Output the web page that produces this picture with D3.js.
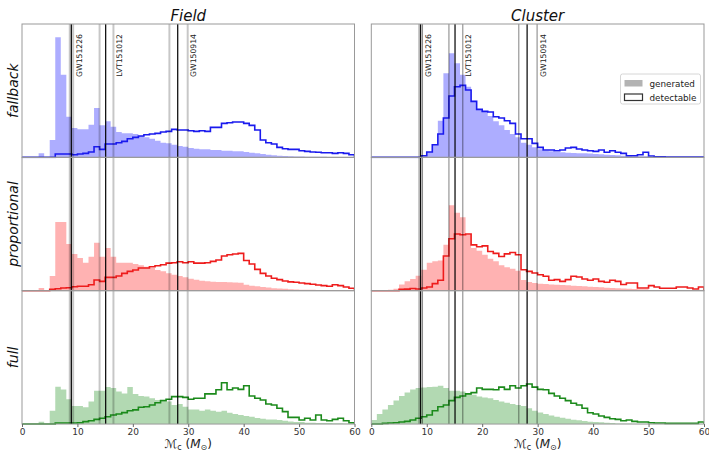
<!DOCTYPE html>
<html>
<head>
<meta charset="utf-8">
<script src="https://cdn.jsdelivr.net/npm/d3@7"></script>
<style>
  body { margin: 0; background: #fff; }
  svg { display: block; font-family: "DejaVu Sans", sans-serif; }
</style>
</head>
<body>
<svg id="chart" width="709" height="452"></svg>
<script>
// column / row names
const envs = ["Field", "Cluster"];
const models = ["fallback", "proportional", "full"];

// histogram heights, one value per 1 M_sun bin from 0 to 60 (percent of panel height)
const fieldFallbackGen = [0,0,0,3,0,13,90,62,30.5,22,21,21,24.5,37,24,27,23,19,18,18,17.5,16,15,14,12.5,11,10.5,9.5,8.5,8,7,6.5,6,6,5.5,5.5,5,5,4.5,4.5,4,3.5,3,2.5,2,1.5,1.2,1,0.8,0.7,0.6,0.5,0.5,0.4,0.4,0.3,0.3,0.3,0.2,0.2];
const fieldFallbackDet = [0,0,0,0,0,0,2.5,2.5,2.5,2,2.5,3,4,8,6,10,10,11,12,14,15,16,17,17.5,18,19,19.5,21,20.5,20.5,20,19.5,20,19.5,22.5,22.5,25.5,26,26.5,26.5,25.5,24,20.5,13,11,10,7.5,6.5,6,6,5,4.5,4,3.8,3.5,3.5,3,3.5,3,2];
const clusterFallbackGen = [0,0,0,0,0,0,0,0,0,1,4,10,27.5,63,78,70.5,62,53,42.5,36,34.5,31,27,24,20.5,17.5,15,11,9.5,7.5,6,5,4.5,4,3.8,3.5,3.3,3.1,3,2.8,2.5,2.3,2,1.8,1.5,1.2,1,0.8,0.8,0.8,0.4,0.4,0.3,0.3,0.3,0.3,0.2,0.2,0.2,0.2];
const clusterFallbackDet = [0,0,0,0,0,0,0,0,0,1.2,4,9.5,17.5,29.5,46,53,54,50.5,42,36,34.5,34,30.5,29.5,27.5,25.5,17.5,14,14,10.5,7.5,5.5,5.5,5,5.5,7,7.5,6.3,5.5,5,4.5,5.5,3.8,5,3.8,3,1.2,1.2,2,3.8,1,0.5,0.5,0.3,0.3,0.3,0.3,0.3,0.3,0.3];

const fieldPropGen = [0,0,0,2,0,11,51.5,51.5,35,27.5,24.5,21,25.5,36,25.5,32,25.5,21,21,21,20,19,18,17,15.5,14.5,13,12,11,10,9,8.3,7.5,7,6.8,6.5,6.5,6.3,6.2,6,4.5,3.8,3.3,2.8,2.4,1.8,1.6,1.4,1.1,0.9,0.8,0.7,0.7,0.6,0.6,0.5,0.5,0.5,0.5,0.5];
const fieldPropDet = [0,0,0,0,0,1,1.5,2,2.2,3,3.3,3.3,4.5,8,7,10,10,11,13,14.5,15.5,17,17,18,18.7,19.5,20.7,21,21.7,21,21.7,20.7,20.7,21,22,23,26,27,27.5,28,22.7,20,16,13,11,9.3,8.3,7.3,6.6,6.3,5.8,5.3,4.8,4.3,3.8,3.3,4.5,3.8,2.8,1.8];
const clusterPropGen = [0,0,0,0.8,1.5,4.6,7,8.8,11.3,15.7,21,22,22.7,34.4,64,58.4,55,42,32,30,27,24,22,19,17.5,16.5,15,8,6.5,5.8,5.3,5,4.6,4.5,4.3,4.1,3.8,3.6,3.3,3,2.8,2.6,2.3,2,1.8,1.6,1.4,1.2,1,1,0.6,0.6,0.6,0.5,0.5,0.5,0.4,0.4,0.4,0.4];
const clusterPropDet = [0,0,0,0,0,1,1.2,1.6,1.3,2,2.8,5.3,7.8,26,39,42.5,42,42.5,34.4,33,33.6,29.4,28,25.7,27.6,28.6,27,15.7,14.5,13.3,12,10.8,7.8,8.3,7,8.3,10.8,10.3,8.8,7.8,8.8,7,6.3,7.8,7,4.6,5.8,5.8,2,2,3.8,2.8,1.8,1.8,1.8,2.8,2.8,2,1.3,2.8];

const fieldFullGen = [0,0,0,1.8,0,10,28,26,18.6,13.6,13.6,12.6,16.9,25,25,27.7,27,24.4,23,27.7,22.6,21,20.6,19.4,18,16.9,16.9,14.3,15,13,11,11,10,11,10,9.3,10,8.5,7.5,6.8,6,5.5,4.5,4,3.5,3.5,3,2.5,2,1.5,1.5,1,0.9,0.8,0.8,0.7,0.6,0.6,0.5,0.5];
const fieldFullDet = [0,0,0,0,0,0,0.8,0.8,0.8,0.8,1,1.8,2.5,3.5,4.3,5.5,6.8,7.5,8.6,10,10.6,12.6,13,14.3,16,17.6,18.6,20.6,20.6,20,18.6,19.4,19.4,22.6,22.6,25.7,31,25.7,27,26,28.7,21,19.4,18,15,14.3,11.8,9.3,5,5,3,4.3,3,6.8,3,2.5,3.5,4.3,2.5,1];
const clusterFullGen = [3,7.5,11,14.3,17.6,21,23.6,26,27,27.4,27.7,28,28.7,27,25,25,24.4,23,22,20.6,20,19.4,18,16.9,16,15,14.3,13.6,11.8,10,8.6,7.5,6.5,5.5,4.8,4,3.3,2.8,2.3,1.8,1.5,1.3,1,0.8,0.5,0.5,0.5,0.3,0.2,0.2,0.2,0.2,0.2,0.2,0.2,0.2,0.2,0.2,0.2,0.2];
const clusterFullDet = [0,0,0.5,0.8,1,1.5,2,3,4.3,5.5,6.8,10,13,14.3,17.6,20,21,22.6,23.6,27,26,26,25.7,27.7,26,28.7,27,28.7,30,27.7,26,25.7,23,21,19.4,17.6,15.6,14.3,11.8,8.5,7.5,6,5,4,3.5,2.5,3,2,1.5,1.5,1,0.8,0.8,0.5,0.5,0.5,0.5,0.5,0.5,1.5];

// observed events: chirp mass with 90% bounds
const eventNames = ["GW151226", "LVT151012", "GW150914"];
const eventMass = [8.9, 15.1, 28.1];
const eventLow = [8.62, 14.0, 26.6];
const eventHigh = [9.23, 16.5, 29.9];

const xTicks = [0, 10, 20, 30, 40, 50, 60];
const legendLabels = ["generated", "detectable"];

const genData = [[fieldFallbackGen, clusterFallbackGen], [fieldPropGen, clusterPropGen], [fieldFullGen, clusterFullGen]];
const detData = [[fieldFallbackDet, clusterFallbackDet], [fieldPropDet, clusterPropDet], [fieldFullDet, clusterFullDet]];

const lineColors = ["#1a1aee", "#ee1c1c", "#1b8a1b"];
const fillColors = ["rgba(0,0,255,0.32)", "rgba(255,0,0,0.3)", "rgba(0,128,0,0.3)"];

const colX = [[22, 354.5], [371.3, 704]];
const plotTop = 24, rowH = 133.35;
const plotBottom = plotTop + rowH * 3;

const svg = d3.select("#chart");
const edges = d3.range(0, 61);

envs.forEach((env, c) => {
    const x = d3.scaleLinear().domain([0, 60]).range(colX[c]);

    svg.append("text")
        .attr("x", (colX[c][0] + colX[c][1]) / 2)
        .attr("y", 20.5)
        .attr("text-anchor", "middle")
        .style("font-size", "15px")
        .style("font-style", "italic")
        .style("fill", "#111")
        .text(env);

    models.forEach((model, r) => {
        const y0 = plotTop + r * rowH;
        const y = d3.scaleLinear().domain([0, 100]).range([y0 + rowH, y0]);
        const id = `clip-${c}-${r}`;
        svg.append("clipPath").attr("id", id)
            .append("rect")
            .attr("x", colX[c][0]).attr("y", y0)
            .attr("width", colX[c][1] - colX[c][0]).attr("height", rowH + 1);

        const g = svg.append("g").attr("clip-path", `url(#${id})`);

        const gen = genData[r][c];
        const area = d3.area()
            .curve(d3.curveStepAfter)
            .x(d => x(d[0]))
            .y0(y(0))
            .y1(d => y(d[1]));
        const pts = edges.map(e => [e, gen[Math.min(e, 59)]]);
        g.append("path")
            .attr("d", area(pts))
            .style("fill", fillColors[r]);

        const det = detData[r][c];
        const stepPts = [[0, 0]];
        det.forEach((v, i) => { stepPts.push([edges[i], v]); stepPts.push([edges[i + 1], v]); });
        stepPts.push([60, 0]);
        const line = d3.line().x(d => x(d[0])).y(d => y(d[1]));
        g.append("path")
            .attr("d", line(stepPts))
            .style("fill", "none")
            .style("stroke", lineColors[r])
            .style("stroke-width", 1.6);

        if (c === 0) {
            svg.append("text")
                .attr("transform", `translate(18,${y0 + rowH / 2}) rotate(-90)`)
                .attr("text-anchor", "middle")
                .style("font-size", "14px")
                .style("font-style", "italic")
                .style("fill", "#111")
                .text(model);
        }
    });

    // event lines across the whole column
    const grayStroke = c === 0 ? "rgba(0,0,0,0.22)" : "rgba(0,0,0,0.45)";
    const grayWidth = c === 0 ? 2 : 1.1;
    eventNames.forEach((name, i) => {
        [eventLow[i], eventHigh[i]].forEach(v => {
            svg.append("line")
                .attr("x1", x(v)).attr("x2", x(v))
                .attr("y1", plotTop).attr("y2", plotBottom)
                .style("stroke", grayStroke)
                .style("stroke-width", grayWidth);
        });
        svg.append("line")
            .attr("x1", x(eventMass[i])).attr("x2", x(eventMass[i]))
            .attr("y1", plotTop).attr("y2", plotBottom)
            .style("stroke", "#000")
            .style("stroke-width", 1.2);
        svg.append("text")
            .attr("transform", `translate(${x(eventHigh[i]) + 8.5},${plotTop + 10}) rotate(-90)`)
            .attr("text-anchor", "end")
            .style("font-size", "7.7px")
            .style("fill", "#222")
            .text(name);
    });

    // panel frames
    models.forEach((m, r) => {
        svg.append("rect")
            .attr("x", colX[c][0]).attr("y", plotTop + r * rowH)
            .attr("width", colX[c][1] - colX[c][0]).attr("height", rowH)
            .style("fill", "none")
            .style("stroke", "#999")
            .style("stroke-width", 1);
    });

    // x axis on bottom row
    const axis = d3.axisBottom(x).tickValues(xTicks).tickSize(3).tickPadding(1.5);
    const ag = svg.append("g").attr("transform", `translate(0,${plotBottom})`).call(axis);
    ag.select(".domain").remove();
    ag.selectAll(".tick line").style("stroke", "#666");
    ag.selectAll(".tick text")
        .style("font-size", "9px")
        .style("font-family", "DejaVu Sans")
        .style("fill", "#333");

    const lab = svg.append("text")
        .attr("x", (colX[c][0] + colX[c][1]) / 2)
        .attr("y", 447.5)
        .attr("text-anchor", "middle")
        .style("font-size", "12px")
        .style("fill", "#222");
    lab.append("tspan").text("ℳ");
    lab.append("tspan").attr("dy", 2).style("font-size", "8px").text("c");
    lab.append("tspan").attr("dy", -2).text(" (");
    lab.append("tspan").style("font-style", "italic").text("M");
    lab.append("tspan").attr("dy", 2).style("font-size", "8px").text("⊙");
    lab.append("tspan").attr("dy", -2).text(")");
});

// legend in the top right panel
const lg = svg.append("g").attr("transform", "translate(620.5,74)");
lg.append("rect")
    .attr("width", 80).attr("height", 30).attr("rx", 2)
    .style("fill", "rgba(255,255,255,0.85)")
    .style("stroke", "#ccc")
    .style("stroke-width", 0.8);
legendLabels.forEach((label, i) => {
    const yy = 6 + i * 14;
    lg.append("rect")
        .attr("x", 4).attr("y", yy).attr("width", 18).attr("height", 6.5)
        .style("fill", i === 0 ? "#b3b3b3" : "#fff")
        .style("stroke", i === 0 ? "none" : "#333")
        .style("stroke-width", 1.2);
    lg.append("text")
        .attr("x", 29).attr("y", yy + 6.5)
        .style("font-size", "8.8px")
        .style("fill", "#222")
        .text(label);
});
</script>
</body>
</html>
